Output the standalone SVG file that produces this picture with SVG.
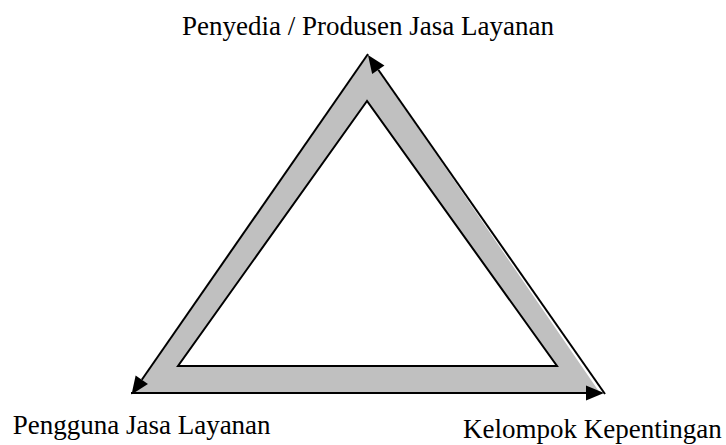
<svg xmlns="http://www.w3.org/2000/svg" width="726" height="445" viewBox="0 0 726 445">
<style>
.lbl{font-family:"Liberation Serif","Times New Roman",serif;font-size:27px;fill:#000}
.edge{stroke:#000;stroke-width:2;fill:none;marker-end:url(#ah)}
</style>
<defs>
<marker id="ah" markerUnits="userSpaceOnUse" markerWidth="18" markerHeight="15" refX="0" refY="7.5" orient="auto" overflow="visible">
<path d="M0,0 L18,7.5 L0,15 Z" fill="#000"/>
</marker>
</defs>
<rect width="726" height="445" fill="#fff"/>
<g id="ring">
<path d="M368,55 L132,393 L600,393 Z M367,101 L178,366 L557,366 Z" fill="#c0c0c0" fill-rule="evenodd"/>
<path d="M367,101 L178,366 L557,366 Z" fill="#fff" stroke="#000" stroke-width="2" stroke-linejoin="miter"/>
</g>
<g id="connectors">
<line class="edge" x1="368" y1="54" x2="141.8" y2="379.7"/>
<line class="edge" x1="131" y1="393" x2="586" y2="393"/>
<line class="edge" x1="605" y1="394" x2="378.3" y2="69.8"/>
</g>
<g id="node-penyedia"><text class="lbl" x="368" y="35" text-anchor="middle">Penyedia / Produsen Jasa Layanan</text></g>
<g id="node-pengguna"><text class="lbl" x="12.7" y="434">Pengguna Jasa Layanan</text></g>
<g id="node-kelompok"><text class="lbl" x="463" y="438">Kelompok Kepentingan</text></g>
</svg>
